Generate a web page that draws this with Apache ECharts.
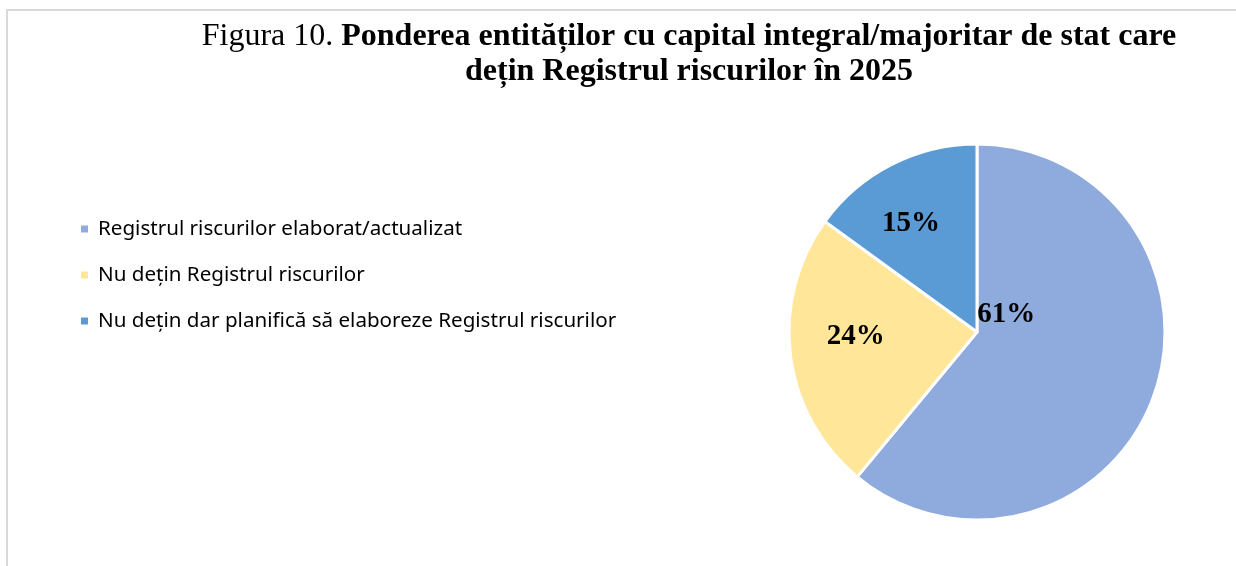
<!DOCTYPE html>
<html>
<head>
<meta charset="utf-8">
<script src="https://cdn.jsdelivr.net/npm/echarts@6/dist/echarts.min.js"></script>
<style>
  html, body { margin: 0; padding: 0; background: #fff; }
  #chart { width: 1236px; height: 566px; }
</style>
</head>
<body>
<div id="chart"></div>
<script>
// categories and shares (%)
const categories = [
  'Registrul riscurilor elaborat/actualizat',
  'Nu dețin Registrul riscurilor',
  'Nu dețin dar planifică să elaboreze Registrul riscurilor'
];
const shares = [61, 24, 15];
const colors = ['#8faadc', '#ffe699', '#5b9bd5'];
// nudge labels from the ECharts 'inside' spot to where Excel put them
const labelOffsets = [[-62, -50], [-25, -8], [-22, -22]];

const chart = echarts.init(document.getElementById('chart'));

const option = {
  backgroundColor: '#fff',
  animation: false,
  graphic: [
    {
      type: 'rect',
      shape: { x: 7, y: 10, width: 1400, height: 700 },
      style: { fill: 'none', stroke: '#d9d9d9', lineWidth: 2 }
    }
  ],
  title: {
    text: '{n|Figura 10. }{b|Ponderea entităților cu capital integral/majoritar de stat care}\n{b|dețin Registrul riscurilor în 2025}',
    left: 684,
    top: 14,
    textAlign: 'center',
    textStyle: {
      rich: {
        n: { fontFamily: 'Liberation Serif', fontSize: 32, fontWeight: 'normal', color: '#000', lineHeight: 35 },
        b: { fontFamily: 'Liberation Serif', fontSize: 32, fontWeight: 'bold', color: '#000', lineHeight: 35 }
      }
    }
  },
  legend: {
    orient: 'vertical',
    left: 79,
    top: 218,
    padding: 0,
    icon: 'rect',
    itemWidth: 9,
    itemHeight: 9,
    itemGap: 24,
    textStyle: {
      fontFamily: 'Noto Sans',
      fontSize: 20.6,
      color: '#000',
      lineHeight: 22,
      padding: [0, 0, 0, 4]
    },
    data: categories
  },
  series: [
    {
      type: 'pie',
      center: [977, 332],
      radius: 188,
      startAngle: 90,
      clockwise: true,
      itemStyle: { borderColor: '#fff', borderWidth: 3 },
      label: {
        show: true,
        position: 'inside',
        formatter: '{c}%',
        fontFamily: 'Liberation Serif',
        fontSize: 29,
        fontWeight: 'bold',
        color: '#000'
      },
      labelLine: { show: false },
      emphasis: { disabled: true },
      data: categories.map((name, i) => ({
        name: name,
        value: shares[i],
        itemStyle: { color: colors[i] },
        label: { offset: labelOffsets[i] }
      }))
    }
  ]
};

chart.setOption(option);
</script>
</body>
</html>
